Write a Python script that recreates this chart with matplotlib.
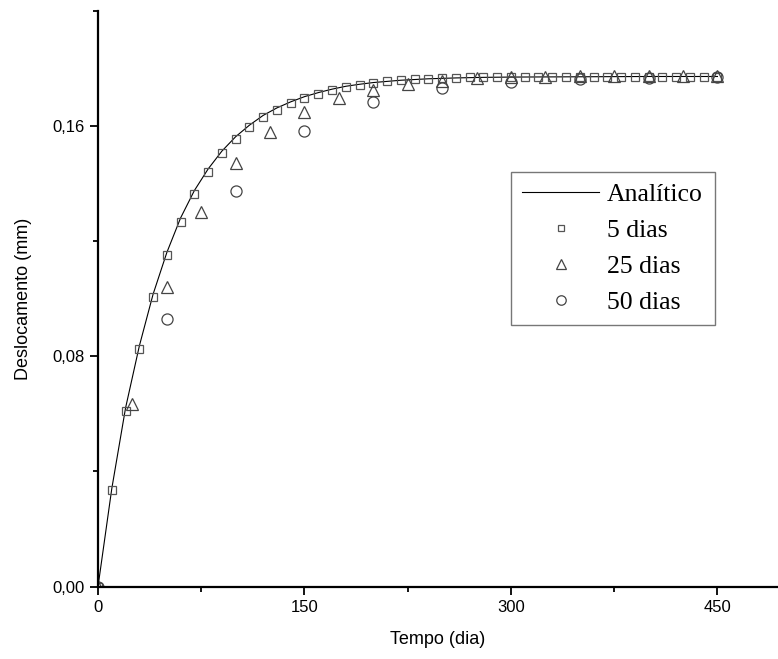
import matplotlib.pyplot as plt
from matplotlib.ticker import FixedLocator, FuncFormatter

# tempo (dia) e deslocamento (mm)
t_analitico = [0, 10, 20, 30, 40, 50, 60, 70, 80, 90, 100, 110, 120, 130, 140,
               150, 160, 170, 180, 190, 200, 220, 240, 260, 280, 300, 350, 400, 450]
u_analitico = [0.0, 0.0340, 0.0620, 0.0835, 0.1015, 0.1160, 0.1280, 0.1375, 0.1450,
               0.1512, 0.1562, 0.1602, 0.1636, 0.1662, 0.1683, 0.1701, 0.1715, 0.1727,
               0.1737, 0.1744, 0.1750, 0.1758, 0.1763, 0.1766, 0.1768, 0.1769, 0.1770,
               0.1771, 0.1771]

t_5 = list(range(0, 451, 10))
u_5 = [0.0, 0.0336, 0.0608, 0.0826, 0.1007, 0.1151, 0.1267, 0.1363, 0.1440, 0.1504,
       0.1554, 0.1595, 0.1629, 0.1655, 0.1678, 0.1697, 0.1710, 0.1724, 0.1733, 0.1741,
       0.1749, 0.1755, 0.1759, 0.1762, 0.1764, 0.1766, 0.1767, 0.1768, 0.1769, 0.1769,
       0.1769, 0.1770, 0.1770, 0.1770, 0.1770, 0.1770, 0.1770, 0.1770, 0.1770, 0.1770,
       0.1770, 0.1770, 0.1770, 0.1770, 0.1770, 0.1770]

t_25 = list(range(0, 451, 25))
u_25 = [0.0, 0.0634, 0.1041, 0.1302, 0.1472, 0.1579, 0.1649, 0.1695, 0.1724, 0.1744,
        0.1757, 0.1765, 0.1768, 0.1770, 0.1771, 0.1771, 0.1771, 0.1771, 0.1771]

t_50 = list(range(0, 451, 50))
u_50 = [0.0, 0.0929, 0.1373, 0.1582, 0.1681, 0.1730, 0.1753, 0.1762, 0.1767, 0.1770]

fig = plt.figure(figsize=(7.78, 6.59), dpi=100)
ax = fig.add_axes([0.126, 0.11, 0.874, 0.874])

ax.plot(t_analitico, u_analitico, color="black", lw=0.8, label="Analítico")
ax.plot(t_5, u_5, ls="none", marker="s", ms=5.3, mfc="none", mec="#555555", mew=0.9, label="5 dias")
ax.plot(t_25, u_25, ls="none", marker="^", ms=9, mfc="none", mec="#444444", mew=0.9, label="25 dias")
ax.plot(t_50, u_50, ls="none", marker="o", ms=8, mfc="none", mec="#444444", mew=0.9, label="50 dias")

ax.set_xlim(0, 494)
ax.set_ylim(0, 0.2)
ax.spines["top"].set_visible(False)
ax.spines["right"].set_visible(False)
ax.spines["left"].set_linewidth(1.6)
ax.spines["bottom"].set_linewidth(1.6)

ax.xaxis.set_major_locator(FixedLocator([0, 150, 300, 450]))
ax.xaxis.set_minor_locator(FixedLocator([75, 225, 375]))
ax.yaxis.set_major_locator(FixedLocator([0.0, 0.08, 0.16]))
ax.yaxis.set_minor_locator(FixedLocator([0.04, 0.12, 0.20]))
ax.yaxis.set_major_formatter(FuncFormatter(lambda v, p: f"{v:.2f}".replace(".", ",")))
ax.tick_params(which="major", direction="out", length=6, width=1.3, labelsize=12)
ax.tick_params(which="minor", direction="out", length=3.5, width=1.3)
for lbl in ax.get_xticklabels() + ax.get_yticklabels():
    lbl.set_family("Liberation Sans")

ax.set_xlabel("Tempo (dia)", fontsize=13, family="Liberation Sans", labelpad=12)
ax.set_ylabel("Deslocamento (mm)", fontsize=13, family="Liberation Sans", labelpad=15)

leg = ax.legend(loc="upper left", bbox_to_anchor=(0.607, 0.72), frameon=True, fancybox=False,
                prop={"family": "Liberation Serif", "size": 18.5}, handlelength=3.0,
                handletextpad=0.3, labelspacing=0.5, borderpad=0.45, borderaxespad=0,
                markerscale=0.85)
leg.get_frame().set_edgecolor("#555555")
leg.get_frame().set_linewidth(1.0)

plt.savefig("out.png", dpi=100)
